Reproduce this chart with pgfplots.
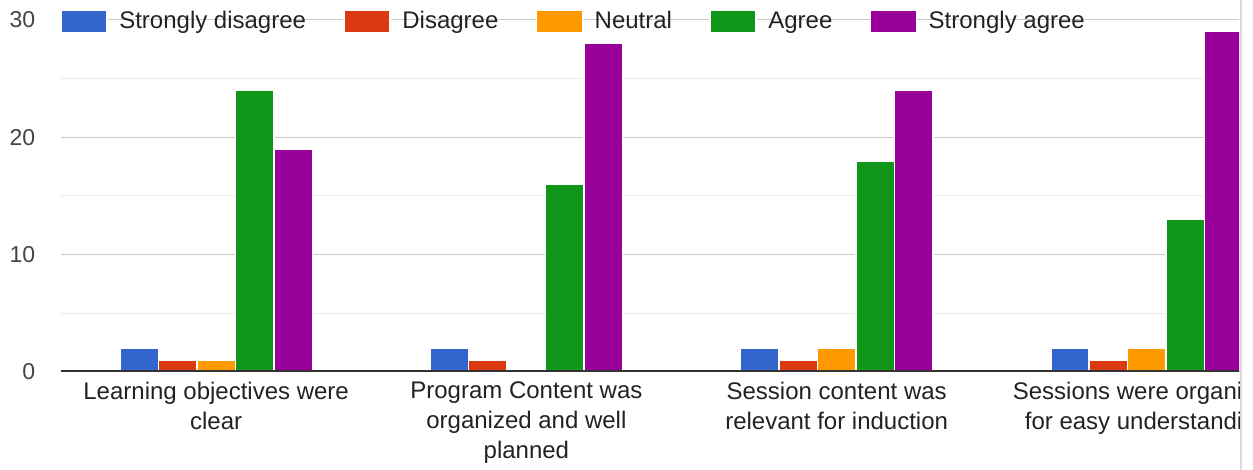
\documentclass[border=0pt]{standalone}
\usepackage{fontspec}
\setmainfont{Liberation Sans}
\usepackage{pgfplots}
\usepackage{pgfplotstable}
\pgfplotsset{compat=1.18}
\definecolor{cSD}{HTML}{3366CC}
\definecolor{cD}{HTML}{DC3912}
\definecolor{cN}{HTML}{FF9900}
\definecolor{cA}{HTML}{109618}
\definecolor{cSA}{HTML}{990099}
\definecolor{gridc}{HTML}{CCCCCC}
\definecolor{minorc}{HTML}{EBEBEB}
\definecolor{basec}{HTML}{333333}
\definecolor{tickc}{HTML}{444444}
\definecolor{textc}{HTML}{222222}
\pgfplotstableread{
x sd d n a sa
0 2 1 1 24 19
1 2 1 0 16 28
2 2 1 2 18 24
3 2 1 2 13 29
}\datatable
\begin{document}
\begin{tikzpicture}
\useasboundingbox (0,0) rectangle (626.5pt,235pt);
\begin{scope}
\clip (0,0) rectangle (619.5pt,235pt);
\begin{axis}[
  at={(30.5pt,49pt)}, anchor=south west,
  scale only axis, width=589.5pt, height=176pt,
  xmin=-0.5, xmax=3.3, ymin=0, ymax=30,
  ybar, bar width=0.124,
  axis line style={draw=none},
  tick style={draw=none},
  ytick={0,10,20,30},
  minor ytick={5,15,25},
  ymajorgrids, yminorgrids,
  major grid style={gridc, line width=0.5pt},
  minor grid style={minorc, line width=0.5pt},
  xtick={0,1,2,3},
  xticklabels={{Learning objectives were\\clear},{Program Content was\\organized and well\\planned},{Session content was\\relevant for induction},{Sessions were organized\\for easy understanding}},
  xticklabel style={font=\fontsize{12pt}{15pt}\selectfont, align=center, text=textc, inner sep=0pt, anchor=north, yshift=-0.5pt},
  yticklabel style={font=\fontsize{11.5pt}{13pt}\selectfont, text=tickc, inner sep=0pt, anchor=east, xshift=-12.7pt},
  /pgf/number format/assume math mode=true,
  legend columns=5,
  legend style={draw=none, fill=none, inner sep=0pt, at={(rel axis cs:0,1)}, anchor=west, xshift=-0.5pt, yshift=-0.75pt,
    font=\fontsize{12pt}{14pt}\selectfont, text=textc,
    nodes={inner sep=0pt},
    /tikz/every odd column/.append style={column sep=5.7pt},
    /tikz/every even column/.append style={column sep=18.7pt}},
  legend image code/.code={\fill[#1] (0pt,-5.4pt) rectangle (23pt,5.4pt);},
]
\addplot[fill=cSD, draw=white, line width=0.75pt, bar shift=-0.248] table[x=x,y=sd]{\datatable};
\addplot[fill=cD, draw=white, line width=0.75pt, bar shift=-0.124] table[x=x,y=d]{\datatable};
\addplot[fill=cN, draw=white, line width=0.75pt, bar shift=0] table[x=x,y=n]{\datatable};
\addplot[fill=cA, draw=white, line width=0.75pt, bar shift=0.124] table[x=x,y=a]{\datatable};
\addplot[fill=cSA, draw=white, line width=0.75pt, bar shift=0.248] table[x=x,y=sa]{\datatable};
\legend{Strongly disagree, Disagree, Neutral, Agree, Strongly agree}
\draw[basec, line width=1.5pt] (rel axis cs:0,0) -- (rel axis cs:1,0);
\end{axis}
\end{scope}
\draw[gridc!70, line width=0.75pt] (620.5pt,0) -- (620.5pt,235pt);
\end{tikzpicture}
\end{document}
